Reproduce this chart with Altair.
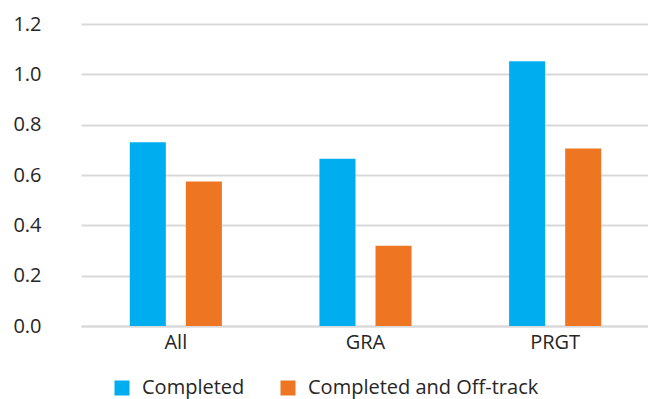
import altair as alt
import pandas as pd

categories = ["All", "GRA", "PRGT"]
completed = [0.73, 0.665, 1.052]
completed_offtrack = [0.574, 0.319, 0.705]
series_names = ["Completed", "Completed and Off-track"]
colors = ["#00AEEF", "#EE7623"]

rows = []
for c, a, b in zip(categories, completed, completed_offtrack):
    rows.append({"cat": c, "series": series_names[0], "value": a})
    rows.append({"cat": c, "series": series_names[1], "value": b})
df = pd.DataFrame(rows)

FONT = "Open Sans"
TXT = "#262626"

chart = alt.Chart(df).mark_bar().encode(
    x=alt.X("cat:N", sort=categories, title=None,
            scale=alt.Scale(range=[11, 580], paddingInner=0, paddingOuter=0),
            axis=alt.Axis(labelAngle=0, labelFontSize=20, labelFont=FONT, labelColor=TXT,
                          ticks=False, domainColor="#d9d9d9", domainWidth=2, labelPadding=6)),
    xOffset=alt.XOffset("series:N", sort=series_names,
                        scale=alt.Scale(paddingInner=0.357, paddingOuter=0.87)),
    y=alt.Y("value:Q", title=None,
            scale=alt.Scale(domain=[0, 1.2], nice=False),
            axis=alt.Axis(values=[0, 0.2, 0.4, 0.6, 0.8, 1.0, 1.2], format=".1f",
                          labelFontSize=20, labelFont=FONT, labelColor=TXT,
                          ticks=False, domain=False, labelPadding=29,
                          gridColor="#d9d9d9", gridWidth=2)),
    color=alt.Color("series:N", sort=series_names,
                    scale=alt.Scale(domain=series_names, range=colors),
                    legend=alt.Legend(title=None, orient="none", direction="horizontal",
                                      legendX=42, legendY=354,
                                      symbolType="square", symbolSize=225,
                                      symbolStrokeWidth=0, symbolOpacity=1,
                                      labelFontSize=20, labelFont=FONT, labelColor=TXT,
                                      labelOffset=10, columnPadding=33, labelLimit=0)),
).properties(
    width=578, height=302,
    autosize=alt.AutoSizeParams(type="none"),
    padding={"left": 70, "top": 24, "right": 0, "bottom": 73},
).configure_view(stroke=None)

chart.save("out.html", embed_options={"renderer": "svg", "actions": False})
